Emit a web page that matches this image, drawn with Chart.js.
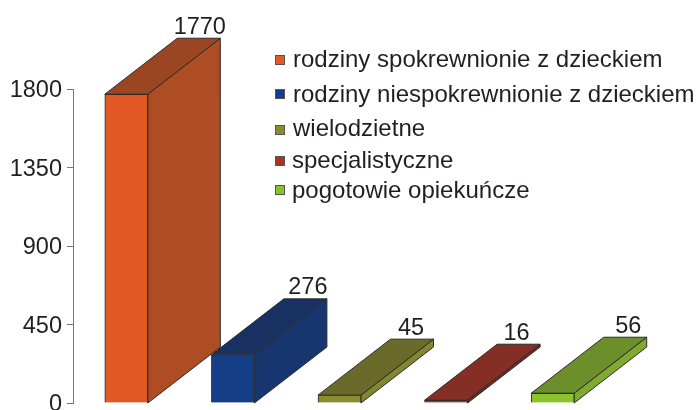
<!DOCTYPE html>
<html>
<head>
<meta charset="utf-8">
<style>
  body { margin: 0; background: #fff; }
  #chart { display: block; }
</style>
<script src="https://cdn.jsdelivr.net/npm/chart.js@4"></script>
</head>
<body>
<canvas id="chart" width="697" height="410"></canvas>
<script>
const categories = [
  'rodziny spokrewnionie z dzieckiem',
  'rodziny niespokrewnionie z dzieckiem',
  'wielodzietne',
  'specjalistyczne',
  'pogotowie opiekuńcze'
];
const values = [1770, 276, 45, 16, 56];
const yTicks = [0, 450, 900, 1350, 1800];

const frontColors = ['#e25825', '#143e87', '#8a8d30', '#a83628', '#8bc32c'];
const sideColors = ['#ae4c24', '#17366f', '#83862f', '#6f2a20', '#7fa92f'];
const topColors = ['#9c4522', '#183162', '#6a6b2a', '#842e25', '#6c8e2b'];

// layout of the hand-placed labels in the original
const swatchRows = [60, 94, 130, 161, 190];
const legendTextRows = [60, 95, 129, 161, 191];
const legendTextX = [293, 293, 293, 292, 292];
const labelShift = [1, 2.5, -1, -2, 3];

const depthX = 72.5;
const depthY = 56;
const edgeColor = '#2b2b2b';
const textColor = '#231f20';
const chartFont = '"Liberation Sans", Arial, sans-serif';

function fillFace(ctx, points, color) {
  ctx.beginPath();
  points.forEach(([x, y], i) => (i ? ctx.lineTo(x, y) : ctx.moveTo(x, y)));
  ctx.closePath();
  ctx.fillStyle = color;
  ctx.fill();
  ctx.stroke();
}

const boxSides = {
  id: 'boxSides',
  beforeDatasetsDraw(chart) {
    const ctx = chart.ctx;
    const bottom = chart.scales.y.getPixelForValue(0);
    ctx.save();
    ctx.strokeStyle = edgeColor;
    ctx.lineWidth = 1;
    chart.getDatasetMeta(0).data.forEach((bar, i) => {
      const left = bar.x - bar.width / 2;
      const right = bar.x + bar.width / 2;
      const top = bar.y;
      fillFace(ctx, [[right, bottom], [right + depthX, bottom - depthY], [right + depthX, top - depthY], [right, top]], sideColors[i]);
      fillFace(ctx, [[left, top], [left + depthX, top - depthY], [right + depthX, top - depthY], [right, top]], topColors[i]);
    });
    ctx.restore();
  }
};

const valueLabels = {
  id: 'valueLabels',
  afterDatasetsDraw(chart) {
    const ctx = chart.ctx;
    ctx.save();
    ctx.font = '23.5px ' + chartFont;
    ctx.fillStyle = textColor;
    ctx.textAlign = 'center';
    ctx.textBaseline = 'alphabetic';
    chart.getDatasetMeta(0).data.forEach((bar, i) => {
      ctx.fillText(values[i], bar.x + depthX + labelShift[i], bar.y - depthY - 4.5);
    });
    ctx.restore();
  }
};

const sideLegend = {
  id: 'sideLegend',
  afterDraw(chart) {
    const ctx = chart.ctx;
    ctx.save();
    ctx.font = '24px ' + chartFont;
    ctx.textBaseline = 'middle';
    categories.forEach((name, i) => {
      const y = swatchRows[i];
      ctx.fillStyle = frontColors[i];
      ctx.strokeStyle = '#555';
      ctx.lineWidth = 1;
      ctx.fillRect(275.5, y - 4.5, 9, 9);
      ctx.strokeRect(275.5, y - 4.5, 9, 9);
      ctx.fillStyle = textColor;
      ctx.fillText(name, legendTextX[i], legendTextRows[i]);
    });
    ctx.restore();
  }
};

new Chart(document.getElementById('chart'), {
  type: 'bar',
  data: {
    labels: categories,
    datasets: [{
      data: values,
      backgroundColor: frontColors,
      borderColor: edgeColor,
      borderWidth: 1,
      barThickness: 43
    }]
  },
  options: {
    responsive: false,
    animation: false,
    layout: { padding: { top: 89, bottom: 7, right: 91 } },
    plugins: {
      legend: { display: false },
      tooltip: { enabled: false }
    },
    scales: {
      x: { display: false },
      y: {
        min: 0,
        max: 1800,
        afterFit(scale) {
          scale.width = 73;
          scale.paddingTop = 0;
          scale.paddingBottom = 0;
        },
        afterBuildTicks(scale) { scale.ticks = yTicks.map((value) => ({ value })); },
        border: { color: '#777', width: 1 },
        grid: { drawOnChartArea: false, color: '#777', tickLength: 6 },
        ticks: {
          color: textColor,
          padding: 5,
          labelOffset: 2,
          font: { family: chartFont, size: 23.5 },
          callback: (value) => String(value)
        }
      }
    }
  },
  plugins: [boxSides, valueLabels, sideLegend]
});
</script>
</body>
</html>
